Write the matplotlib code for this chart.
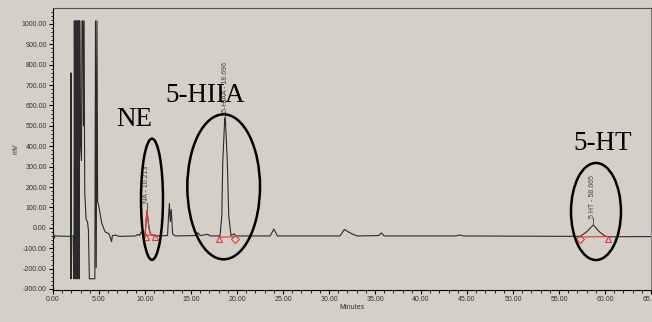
import matplotlib
matplotlib.use("Agg")
from matplotlib import pyplot as plt
from matplotlib.patches import Ellipse
from matplotlib.ticker import MultipleLocator, FormatStrFormatter

# detector trace (minutes, mV)
trace_min = [0.00, 0.08, 0.12, 0.20, 1.90, 1.93, 1.96, 1.99, 2.05, 2.22,
             2.25, 2.28, 2.32, 2.38, 2.44, 2.50, 2.56, 2.62, 2.68, 2.74,
             2.80, 2.86, 2.90, 3.00, 3.10, 3.15, 3.25, 3.30, 3.38, 3.45,
             3.60, 3.75, 3.85, 3.95, 4.55, 4.62, 4.70, 4.78, 4.85, 5.00,
             5.29, 5.65, 6.10, 6.37, 6.45, 6.74, 7.20, 9.00, 9.20, 9.40,
             9.60, 9.80, 10.00, 10.213, 10.45, 10.60, 10.90, 11.00, 12.45, 12.55,
             12.65, 12.75, 12.85, 13.00, 13.30, 15.50, 15.75, 16.00, 16.80, 17.10,
             18.15, 18.35, 18.45, 18.65, 18.696, 18.75, 18.95, 19.10, 19.35, 19.70,
             19.90, 23.60, 24.00, 24.40, 31.20, 31.67, 32.10, 32.60, 33.10, 35.40,
             35.70, 36.00, 43.80, 44.20, 44.60, 57.30, 58.00, 58.73, 59.40, 60.00,
             60.30, 65.00]
trace_mv = [-40, -30, -52, -40, -42, -250, 760, -250, -40, -40,
            -40, -250, 1015, -250, 1015, -250, 1015, -250, 1015, -250,
            1015, -250, 1015, 400, 330, 1015, 1015, 500, 1015, 170,
            40, 30, -10, -250, -250, 1015, -195, 1015, 130, 100,
            24, -19, -30, -68, -40, -35, -42, -40, -32, -38,
            -20, -36, -36, 85, -5, -30, -38, -40, -38, 50,
            120, 30, 90, -30, -40, -38, -24, -38, -32, -40,
            -40, 60, 320, 520, 540, 520, 320, 60, -38, -30,
            -40, -40, -6, -40, -40, -8, -20, -32, -40, -38,
            -25, -40, -40, -35, -40, -42, -20, 14, -20, -40,
            -44, -43]

# integrated peaks
peak_names = ["NA - 10.213", "5-HIAA - 18.696", "5 HT - 58.665"]
peak_rt = [10.213, 18.696, 58.665]
peak_top = [85, 540, 14]
label_base = [122, 568, 48]
start_rt = [10.07, 18.04, 57.25]
end_rt = [11.09, 19.78, 60.30]
start_mv = [-47, -56, -55]
end_mv = [-47, -56, -55]
start_mark = ["^", "^", "D"]
end_mark = ["^", "D", "^"]

# compound callouts
callout_text = ["NE", "5-HIIA", "5-HT"]
callout_x = [8.86, 16.58, 59.73]
callout_y = [500, 617, 382]
ring_x = [10.76, 18.55, 59.02]
ring_y = [140, 201, 80]
ring_w = [2.39, 7.9, 5.43]
ring_h = [594, 711, 476]

bg = "#d4d0c8"
fig = plt.figure(figsize=(6.52, 3.22), dpi=100, facecolor=bg)
ax = fig.add_axes([53 / 652, 32 / 322, 598 / 652, 282 / 322], facecolor=bg)

ax.plot(trace_min, trace_mv, color="#2a2a2a", lw=0.8, zorder=3)

# NA peak is drawn in red by the integrator
na_t = [t for t in trace_min if 10.0 <= t <= 10.9]
na_v = [v for t, v in zip(trace_min, trace_mv) if 10.0 <= t <= 10.9]
ax.plot(na_t, na_v, color="#e03a3a", lw=0.8, zorder=4)

red = "#e03a3a"
for i in range(len(peak_rt)):
    ax.plot([start_rt[i], end_rt[i]], [start_mv[i] + 10, end_mv[i] + 12],
            color=red, lw=0.8, zorder=4)
    ax.plot(start_rt[i], start_mv[i], marker=start_mark[i], ms=4, mfc="none",
            mec=red, mew=0.8, zorder=5)
    ax.plot(end_rt[i], end_mv[i], marker=end_mark[i], ms=4, mfc="none",
            mec=red, mew=0.8, zorder=5)
    ax.plot([peak_rt[i], peak_rt[i]], [peak_top[i], label_base[i]],
            color="#555555", lw=0.7, zorder=3)
    ax.text(peak_rt[i], label_base[i], peak_names[i], rotation=90,
            ha="center", va="bottom", fontsize=5, color="#444444",
            family="Liberation Sans", zorder=3)

for i in range(len(callout_text)):
    ax.add_patch(Ellipse((ring_x[i], ring_y[i]), ring_w[i], ring_h[i],
                         fill=False, ec="black", lw=1.8, zorder=6))
    ax.text(callout_x[i], callout_y[i], callout_text[i], ha="center",
            va="baseline", fontsize=19.5, family="Liberation Serif",
            color="black", zorder=7)

ax.set_xlim(0, 65.0)
ax.set_ylim(-305, 1078)
ax.xaxis.set_major_locator(MultipleLocator(5))
ax.xaxis.set_minor_locator(MultipleLocator(1))
ax.yaxis.set_major_locator(MultipleLocator(100))
ax.yaxis.set_minor_locator(MultipleLocator(20))
ax.xaxis.set_major_formatter(FormatStrFormatter("%.2f"))
ax.yaxis.set_major_formatter(FormatStrFormatter("%.2f"))
ax.tick_params(which="major", length=3, width=0.8, labelsize=5,
               labelcolor="#333333", pad=1.5)
ax.tick_params(which="minor", length=1.8, width=0.6)
for lab in ax.get_xticklabels() + ax.get_yticklabels():
    lab.set_family("Liberation Sans")

ax.spines["top"].set_color("#505050")
ax.spines["right"].set_color("#808080")
ax.spines["left"].set_color("black")
ax.spines["bottom"].set_color("black")

ax.set_xlabel("Minutes", fontsize=5, color="#333333", family="Liberation Sans",
              labelpad=0.5)
ax.set_ylabel("mV", fontsize=5, color="#333333", family="Liberation Sans",
              labelpad=1.5)

fig.savefig("out.png", dpi=100, facecolor=bg)
